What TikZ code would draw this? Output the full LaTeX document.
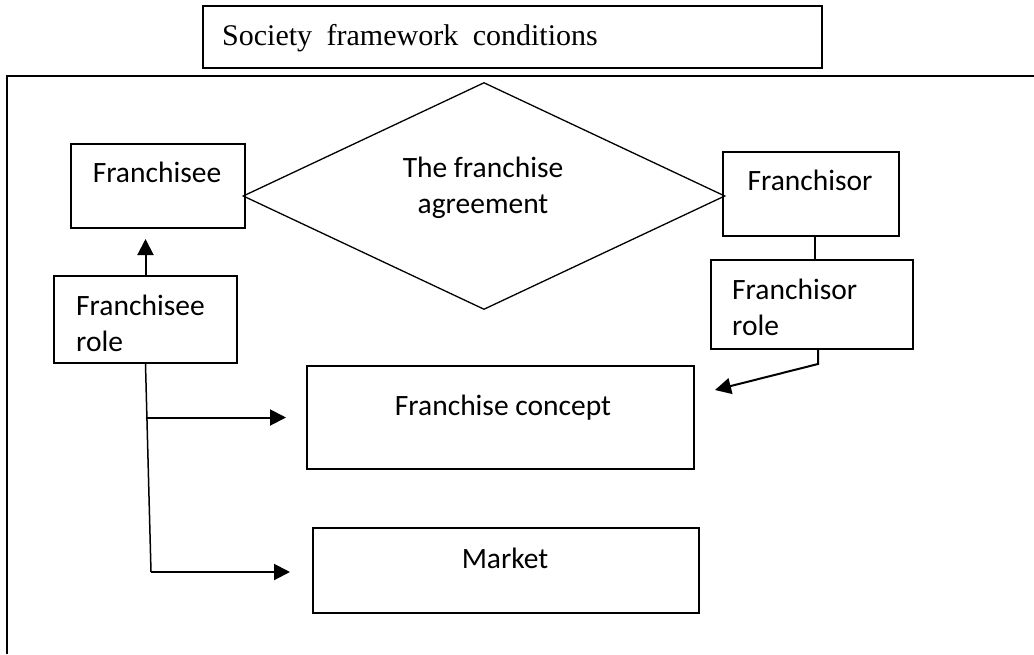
\documentclass[tikz,border=0pt]{standalone}
\usepackage{fontspec}
\setmainfont{Carlito}
\newfontfamily\timesfont{Liberation Serif}
\usetikzlibrary{arrows.meta,shapes.geometric}

\begin{document}
\begin{tikzpicture}[x=1pt,y=-1pt,
  boite/.style={draw,line width=2pt,inner sep=0pt},
  texte/.style={inner sep=0pt,font=\fontsize{29.5}{35.5}\selectfont},
  fleche/.style={line width=2pt,-{Triangle[length=16pt,width=16pt]}}]

\useasboundingbox (0,0) rectangle (1034,654);

% le cadre
\draw[line width=2pt] (7,654)--(7,76)--(1034,76);
\node[boite,minimum width=619pt,minimum height=62pt] (societe) at (512,37) {};
\node[texte,anchor=base west,font=\timesfont\fontsize{30}{36}\selectfont] (titre) at (222,45) {\spaceskip=14.5pt Society framework conditions};

% les boites
\node[boite,minimum width=174pt,minimum height=84pt] (fee) at (158,186) {};
\node[texte,anchor=base] (feetxt) at (157,182) {Franchisee};
\node[draw,line width=1.3pt,diamond,inner sep=0pt,minimum width=482pt,minimum height=227pt] (contrat) at (484,196) {};
\node[texte,anchor=base,align=center] (contrattxt) at (483,213) {The franchise\\agreement};
\node[boite,minimum width=176pt,minimum height=84pt] (fsor) at (811,194) {};
\node[texte,anchor=base] (fsortxt) at (810,190) {Franchisor};
\node[boite,minimum width=183pt,minimum height=87pt] (fer) at (145.5,319.5) {};
\node[texte,anchor=base west,align=left] (fertxt) at (76,351) {Franchisee\\role};
\node[boite,minimum width=202pt,minimum height=89pt] (fsorr) at (812,304.5) {};
\node[texte,anchor=base west,align=left] (fsorrtxt) at (732,335) {Franchisor\\role};
\node[boite,minimum width=387pt,minimum height=103pt] (concept) at (500.5,417.5) {};
\node[texte,anchor=base] (concepttxt) at (503,415) {Franchise concept};
\node[boite,minimum width=386pt,minimum height=85pt] (market) at (506,570.5) {};
\node[texte,anchor=base] (markettxt) at (505,568) {Market};

% les liens
\draw[fleche,shorten >=10pt] (fer.north) -- (fer.north |- fee.south);
\draw[line width=2pt] ([xshift=4pt]fsor.south) -- ([xshift=3pt]fsorr.north);
\coordinate (coude) at (818,364);
\coordinate (pointe) at (715,390);
\draw[fleche] (fsorr.south -| coude) -- (coude) -- (pointe);
\coordinate (bas) at (151,572);
\draw[line width=1.5pt] (fer.south) -- (bas);
\draw[fleche,shorten >=20pt] (fer.south |- concept.west) -- (concept.west);
\draw[fleche,shorten >=22pt] (bas) -- (bas -| market.west);

\end{tikzpicture}
\end{document}
